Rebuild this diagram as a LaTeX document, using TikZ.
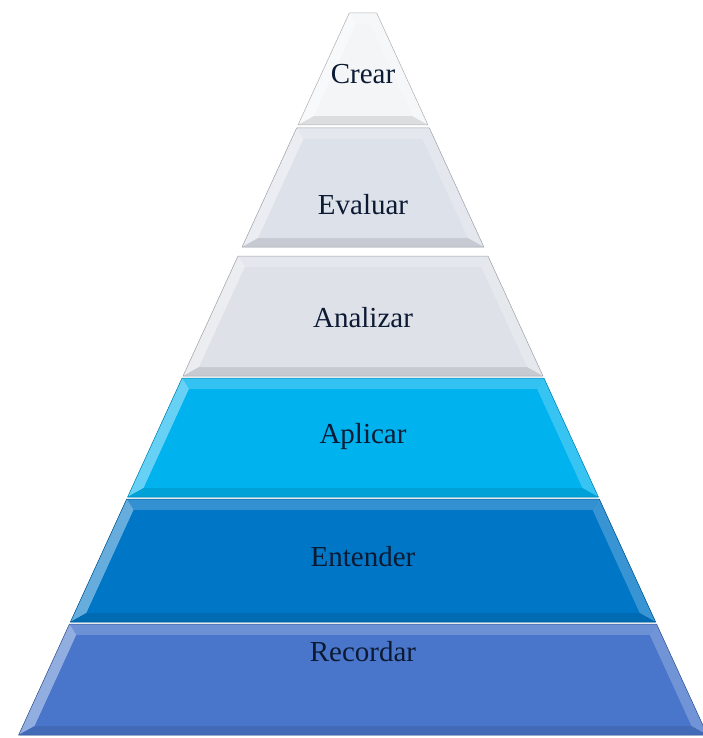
\documentclass[tikz,border=0pt]{standalone}
\usepackage{fontspec}
\setmainfont{Liberation Serif}

\definecolor{cCrear}{HTML}{F4F5F7}
\definecolor{cEvaluar}{HTML}{DDE1E9}
\definecolor{cAnalizar}{HTML}{DEE1E8}
\definecolor{cAplicar}{HTML}{00B3EE}
\definecolor{cEntender}{HTML}{0076C6}
\definecolor{cRecordar}{HTML}{4976CB}
\definecolor{cTexto}{HTML}{0C1A33}

\begin{document}
\begin{tikzpicture}[x=1pt, y=-1pt, line join=round,
    etiqueta/.style={anchor=center, inner sep=0pt, text=cTexto,
      font=\fontsize{29}{34}\selectfont}]

  %% ════ 各层（梯形 + 斜面）════
  % 中心 x=363，半宽 w(y) = 65 + 0.458 (y-125)
  \foreach \yt/\yb/\col in {13/125/cCrear, 128/247/cEvaluar, 256/376/cAnalizar,
                            378/497/cAplicar, 499/622/cEntender, 624/735/cRecordar} {
    \pgfmathsetmacro{\wt}{65+0.458*(\yt-125)}
    \pgfmathsetmacro{\wb}{65+0.458*(\yb-125)}
    \pgfmathsetmacro{\yti}{\yt+11}
    \pgfmathsetmacro{\ybi}{\yb-9}
    \pgfmathsetmacro{\wti}{65+0.458*(\yti-125)-12}
    \pgfmathsetmacro{\wbi}{65+0.458*(\ybi-125)-12}
    % 底色
    \fill[\col] ({363-\wt},\yt) -- ({363+\wt},\yt) -- ({363+\wb},\yb) -- ({363-\wb},\yb) -- cycle;
    % 上斜面
    \fill[\col!80!white] ({363-\wt},\yt) -- ({363+\wt},\yt) -- ({363+\wti},\yti) -- ({363-\wti},\yti) -- cycle;
    % 左斜面（高光）
    \fill[\col!60!white] ({363-\wt},\yt) -- ({363-\wti},\yti) -- ({363-\wbi},\ybi) -- ({363-\wb},\yb) -- cycle;
    % 右斜面
    \fill[\col!78!white] ({363+\wt},\yt) -- ({363+\wti},\yti) -- ({363+\wbi},\ybi) -- ({363+\wb},\yb) -- cycle;
    % 下斜面（阴影）
    \fill[\col!90!black] ({363-\wb},\yb) -- ({363-\wbi},\ybi) -- ({363+\wbi},\ybi) -- ({363+\wb},\yb) -- cycle;
    % 正面
    \fill[\col] ({363-\wti},\yti) -- ({363+\wti},\yti) -- ({363+\wbi},\ybi) -- ({363-\wbi},\ybi) -- cycle;
    % 轮廓
    \draw[\col!72!black, line width=0.5pt] ({363-\wt},\yt) -- ({363+\wt},\yt) -- ({363+\wb},\yb) -- ({363-\wb},\yb) -- cycle;
  }

  %% ════ 标签 ════
  \node[etiqueta] (crear)    at (363,74)  {Crear};
  \node[etiqueta] (evaluar)  at (363,205) {Evaluar};
  \node[etiqueta] (analizar) at (363,318) {Analizar};
  \node[etiqueta] (aplicar)  at (363,437) {Aplicar};
  \node[etiqueta] (entender) at (363,557) {Entender};
  \node[etiqueta] (recordar) at (363,652) {Recordar};

  % 固定画布
  \pgfresetboundingbox
  \path[use as bounding box] (0,0) rectangle (703,738);
\end{tikzpicture}
\end{document}
